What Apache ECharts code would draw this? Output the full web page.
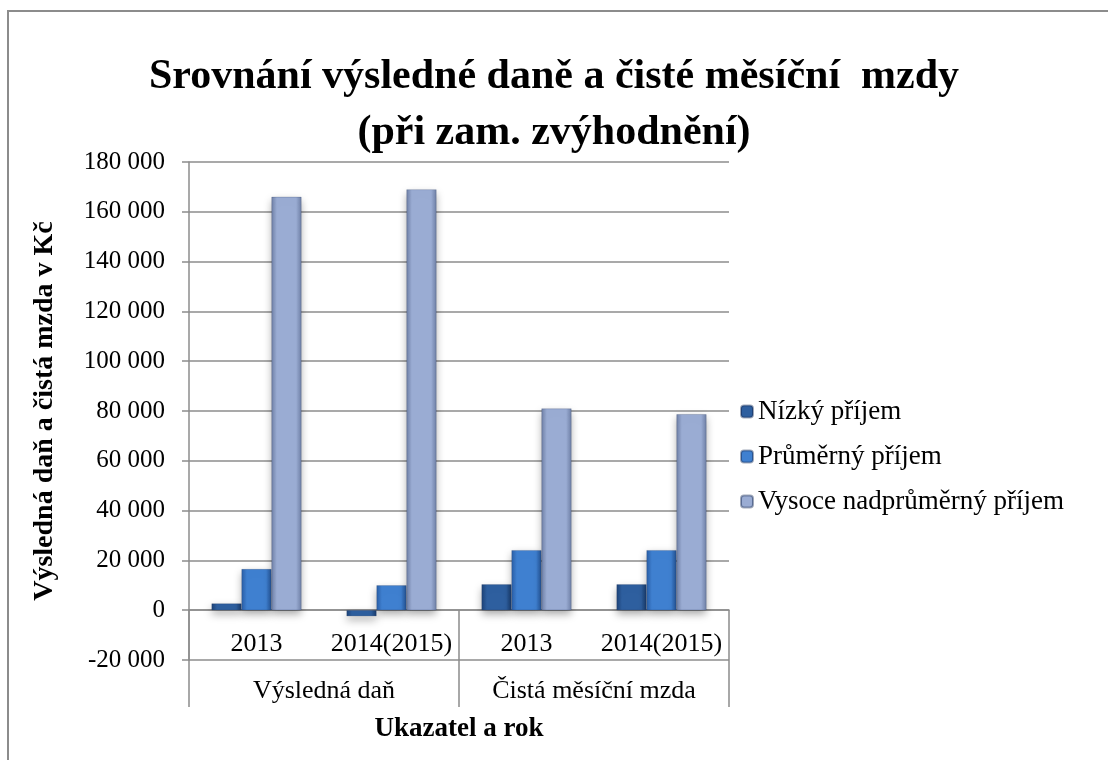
<!DOCTYPE html>
<html>
<head>
<meta charset="utf-8">
<script src="https://cdn.jsdelivr.net/npm/echarts@6/dist/echarts.min.js"></script>
<style>
  html, body { margin: 0; padding: 0; background: #fff; }
  #frame { position: absolute; left: 7px; top: 10px; width: 1101px; height: 750px;
           border-top: 2px solid #8c8c8c; border-left: 2px solid #8c8c8c; box-sizing: border-box; }
  #chart { position: absolute; left: 0; top: 0; width: 1108px; height: 760px; }
</style>
</head>
<body>
<div id="frame"></div>
<div id="chart"></div>
<script>
const YEARS = ["2013", "2014(2015)", "2013", "2014(2015)"];
const GROUPS = ["Výsledná daň", "Čistá měsíční mzda"];
const SERIES_NAMES = ["Nízký příjem", "Průměrný příjem", "Vysoce nadprůměrný příjem"];
const LOW = [2700, -2400, 10400, 10400];
const AVG = [16500, 10000, 24100, 24100];
const HIGH = [166000, 169000, 81000, 78700];

const FONT = "Liberation Serif";
const GRID_COLOR = "#8c8c8c";

function bevel(edge, mid) {
  return new echarts.graphic.LinearGradient(0, 0, 1, 0, [
    { offset: 0, color: edge },
    { offset: 0.18, color: mid },
    { offset: 0.82, color: mid },
    { offset: 1, color: edge },
  ]);
}

const STYLES = [
  bevel("#1d4277", "#2e5f9f"),
  bevel("#2a5ea6", "#3f80d0"),
  bevel("#6f80a6", "#9aacd3"),
];

const fmt = (v) => String(v).replace(/\B(?=(\d{3})+(?!\d))/g, " ");

const chart = echarts.init(document.getElementById("chart"), null, { renderer: "canvas" });

chart.setOption({
  backgroundColor: "transparent",
  animation: false,
  textStyle: { fontFamily: FONT },
  title: {
    text: "Srovnání výsledné daně a čisté měsíční  mzdy\n(při zam. zvýhodnění)",
    left: "center",
    top: 44,
    textStyle: { fontFamily: FONT, fontSize: 42, fontWeight: "bold", color: "#000", lineHeight: 56 },
  },
  grid: { left: 189, right: 379, top: 162, bottom: 100 },
  legend: {
    orient: "vertical",
    left: 735,
    top: 393,
    itemWidth: 12,
    itemHeight: 12,
    itemGap: 18,
    textStyle: { fontFamily: FONT, fontSize: 27, color: "#000" },
    data: SERIES_NAMES,
  },
  xAxis: [
    {
      type: "category",
      data: YEARS,
      axisLine: { onZero: true, lineStyle: { color: GRID_COLOR, width: 1.5 } },
      axisTick: { show: false },
      axisLabel: { interval: 0, hideOverlap: false, inside: true, margin: 3, fontFamily: FONT, fontSize: 26, color: "#000" },
    },
    {
      type: "category",
      data: GROUPS,
      position: "bottom",
      offset: 47,
      axisLine: { show: false },
      axisTick: { show: true, inside: true, length: 97, lineStyle: { color: GRID_COLOR, width: 1.5 } },
      axisLabel: { interval: 0, inside: true, margin: 3, fontFamily: FONT, fontSize: 26, color: "#000" },
      name: "Ukazatel a rok",
      nameLocation: "middle",
      nameGap: 9,
      nameTextStyle: { fontFamily: FONT, fontSize: 27, fontWeight: "bold", color: "#000", verticalAlign: "top" },
    },
  ],
  yAxis: {
    type: "value",
    min: -20000,
    max: 180000,
    interval: 20000,
    name: "Výsledná daň a čistá mzda v Kč",
    nameLocation: "middle",
    nameGap: 130,
    nameTextStyle: { fontFamily: FONT, fontSize: 28, fontWeight: "bold", color: "#000" },
    axisLine: { show: true, lineStyle: { color: GRID_COLOR, width: 1.5 } },
    axisTick: { show: true, length: 7, lineStyle: { color: GRID_COLOR, width: 1.5 } },
    axisLabel: { fontFamily: FONT, fontSize: 25, color: "#000", margin: 24, formatter: fmt },
    splitLine: { lineStyle: { color: GRID_COLOR, width: 1.5 } },
  },
  series: [LOW, AVG, HIGH].map((data, i) => ({
    name: SERIES_NAMES[i],
    type: "bar",
    data,
    barWidth: "22.2%",
    barGap: "0%",
    itemStyle: {
      color: STYLES[i],
      borderColor: "rgba(20,40,80,0.4)",
      borderWidth: 0.5,
      shadowColor: "rgba(0,0,0,0.35)",
      shadowBlur: 8,
      shadowOffsetY: 4,
    },
  })),
});
</script>
</body>
</html>
